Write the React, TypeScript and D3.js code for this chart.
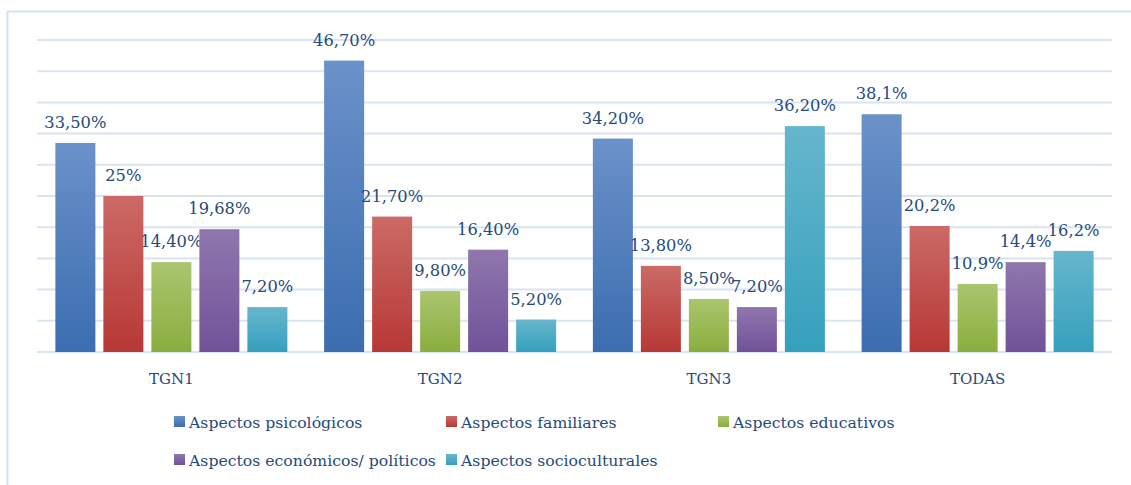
import React from 'react';
import * as d3 from 'd3';

const categories = ['TGN1', 'TGN2', 'TGN3', 'TODAS'];
const seriesNames = [
  'Aspectos psicológicos',
  'Aspectos familiares',
  'Aspectos educativos',
  'Aspectos económicos/ políticos',
  'Aspectos socioculturales',
];
// values per series, one per category
const psicologicos = [33.5, 46.7, 34.2, 38.1];
const familiares = [25, 21.7, 13.8, 20.2];
const educativos = [14.4, 9.8, 8.5, 10.9];
const economicos = [19.68, 16.4, 7.2, 14.4];
const socioculturales = [7.2, 5.2, 36.2, 16.2];
const labelsPsicologicos = ['33,50%', '46,70%', '34,20%', '38,1%'];
const labelsFamiliares = ['25%', '21,70%', '13,80%', '20,2%'];
const labelsEducativos = ['14,40%', '9,80%', '8,50%', '10,9%'];
const labelsEconomicos = ['19,68%', '16,40%', '7,20%', '14,4%'];
const labelsSocioculturales = ['7,20%', '5,20%', '36,20%', '16,2%'];
const yTicks = [0, 5, 10, 15, 20, 25, 30, 35, 40, 45, 50];

const seriesValues = [psicologicos, familiares, educativos, economicos, socioculturales];
const seriesLabels = [labelsPsicologicos, labelsFamiliares, labelsEducativos, labelsEconomicos, labelsSocioculturales];

// gradient stops top -> bottom
const gradients = [
  ['#6b91c9', '#3b6db0'],
  ['#cb6a66', '#b73835'],
  ['#aac66e', '#8aad3e'],
  ['#8f77ad', '#71529a'],
  ['#66b6cd', '#35a0bd'],
];

const W = 1131;
const H = 485;
const textColor = '#264a7c';
const font = 'DejaVu Serif';

export default function App() {
  const x0 = d3.scaleBand<string>().domain(categories).range([37, 1112]);
  const x1 = d3.scaleBand<number>().domain(d3.range(seriesNames.length)).range([0, 232]).paddingInner(1 / 6);
  const y = d3.scaleLinear().domain([0, 50]).range([352, 40]);
  const groupOffset = (x0.bandwidth() - 232) / 2;

  const legend = [
    { i: 0, x: 174, y: 416 },
    { i: 1, x: 446, y: 416 },
    { i: 2, x: 718, y: 416 },
    { i: 3, x: 174, y: 454 },
    { i: 4, x: 446, y: 454 },
  ];

  return (
    <svg width={W} height={H} style={{ position: 'absolute', left: 0, top: 0 }} fontFamily={font}>
      <defs>
        {gradients.map((g, i) => (
          <linearGradient key={i} id={`grad${i}`} x1="0" y1="0" x2="0" y2="1">
            <stop offset="0%" stopColor={g[0]} />
            <stop offset="100%" stopColor={g[1]} />
          </linearGradient>
        ))}
      </defs>
      <rect x={0} y={0} width={W} height={H} fill="#fff" />
      <path d={`M7.5,${H} V11.5 H${W}`} fill="none" stroke="#d3e0f0" strokeWidth={2} />
      {yTicks.map((t) => (
        <line key={t} x1={37} x2={1112} y1={y(t)} y2={y(t)} stroke="#d9e4f3" strokeWidth={2} />
      ))}
      {categories.map((c, ci) => (
        <g key={c} transform={`translate(${x0(c)!},0)`}>
          {seriesValues.map((vals, si) => {
            const bx = groupOffset + x1(si)!;
            const bw = x1.bandwidth();
            const top = y(vals[ci]);
            return (
              <g key={si}>
                <rect x={bx} y={top} width={bw} height={y(0) - top} fill={`url(#grad${si})`} />
                <text x={bx + bw / 2} y={top - 15} textAnchor="middle" fontSize={16.3} fill={textColor}>
                  {seriesLabels[si][ci]}
                </text>
              </g>
            );
          })}
          <text x={x0.bandwidth() / 2} y={384} textAnchor="middle" fontSize={15} fill={textColor}>
            {c}
          </text>
        </g>
      ))}
      {legend.map((l) => (
        <g key={l.i}>
          <rect x={l.x} y={l.y} width={11} height={11} fill={`url(#grad${l.i})`} />
          <text x={l.x + 15} y={l.y + 12} fontSize={15.7} fill={textColor}>
            {seriesNames[l.i]}
          </text>
        </g>
      ))}
    </svg>
  );
}
